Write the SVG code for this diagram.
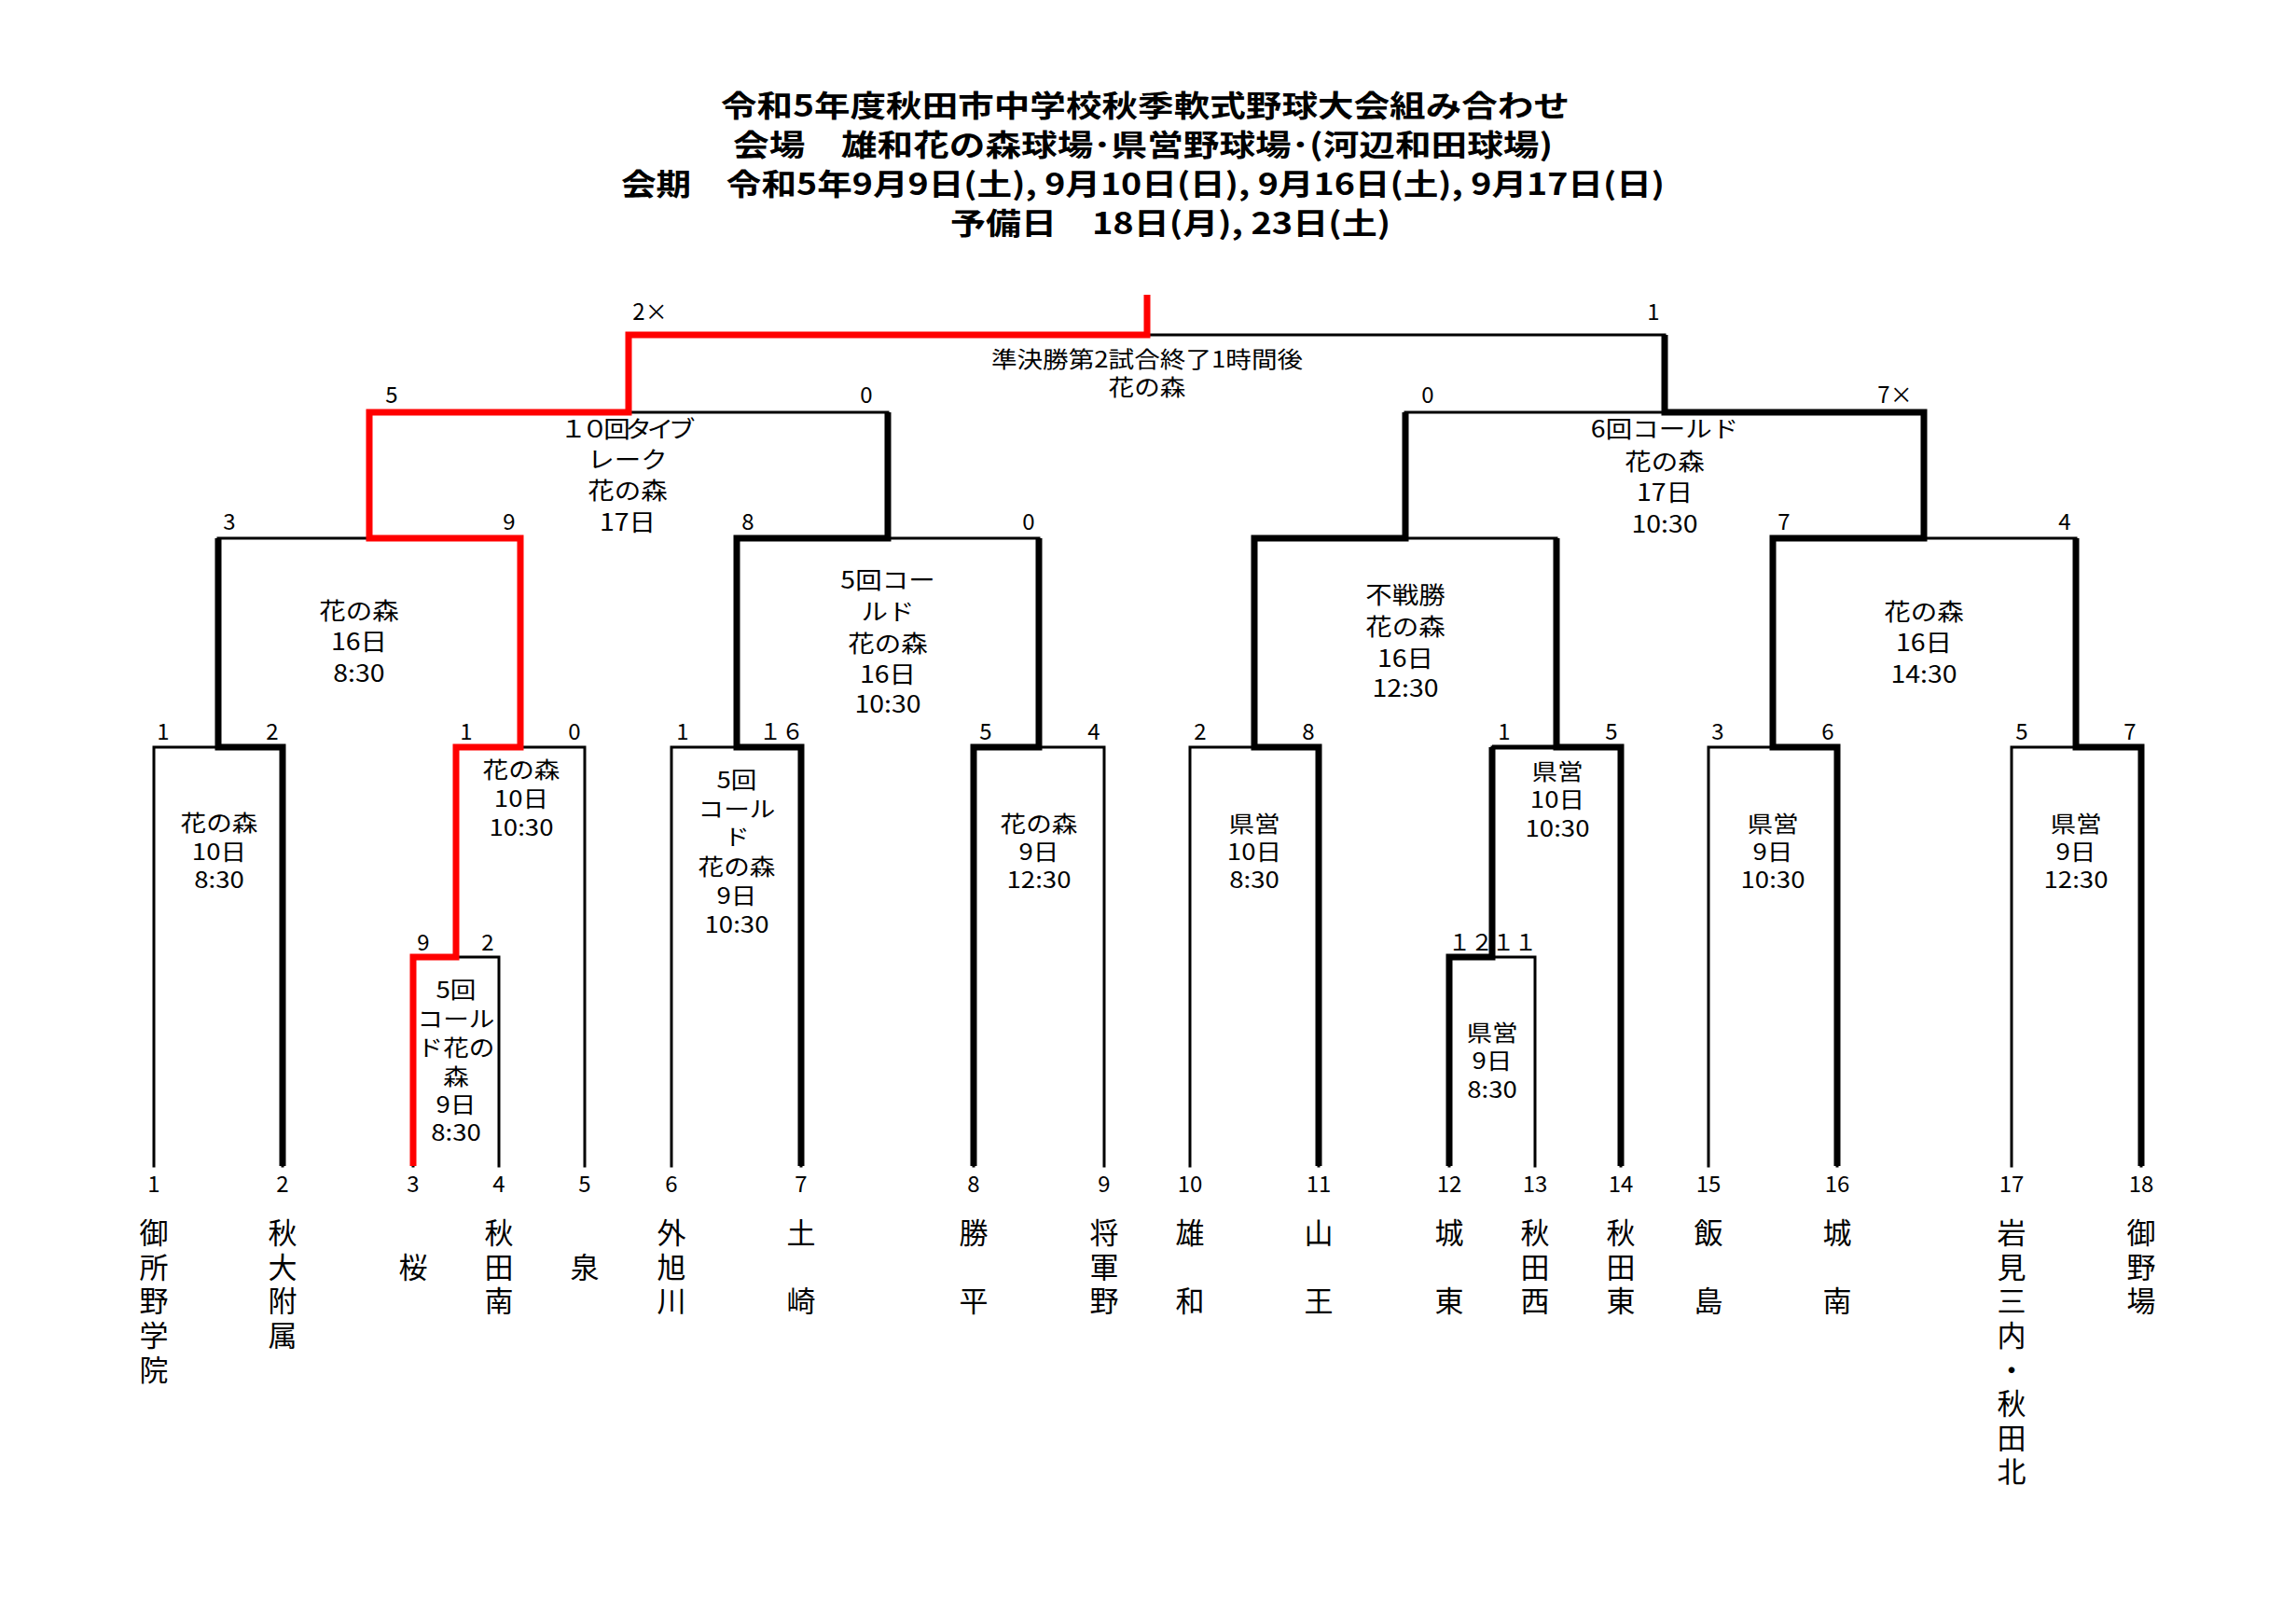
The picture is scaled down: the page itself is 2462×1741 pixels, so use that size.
<svg xmlns="http://www.w3.org/2000/svg" width="2462" height="1741" viewBox="0 0 2462 1741">
<style>
text { font-family: 'Noto Sans CJK JP', 'Noto Sans', sans-serif; fill: #000; }
.title { font-size: 32px; font-weight: 700; }
.lbl { font-size: 24px; text-anchor: middle; }
.lbl2 { font-size: 25px; text-anchor: middle; }
.sc { font-size: 24px; text-anchor: middle; }
.num { font-size: 24px; text-anchor: middle; }
.name { font-size: 31px; writing-mode: vertical-rl; text-anchor: start; letter-spacing: 5.6px; }
.gap { letter-spacing: 42.2px; }
.thin { stroke: #000; stroke-width: 3; fill: none; stroke-linecap: square; }
.thick { stroke: #000; stroke-width: 7; fill: none; stroke-linejoin: miter; }
.med { stroke: #000; stroke-width: 5; fill: none; }
.red { stroke: #ff0000; stroke-width: 7; fill: none; stroke-linejoin: miter; }
</style>
<rect width="2462" height="1741" fill="#fff"/>

<g id="title">
<text class="title" x="773" y="125" textLength="910" lengthAdjust="spacingAndGlyphs">令和5年度秋田市中学校秋季軟式野球大会組み合わせ</text>
<text class="title" x="786" y="167" textLength="879" lengthAdjust="spacingAndGlyphs">会場　雄和花の森球場･県営野球場･(河辺和田球場)</text>
<text class="title" x="666" y="209" textLength="1119" lengthAdjust="spacingAndGlyphs">会期　令和5年9月9日(土), 9月10日(日), 9月16日(土), 9月17日(日)</text>
<text class="title" x="1019" y="251" textLength="472" lengthAdjust="spacingAndGlyphs">予備日　18日(月), 23日(土)</text>
</g>

<g id="connectors">
<path class="thin" d="M165,1250V801 M303,1250V801 M443,1250V1026 M535,1250V1026 M627,1250V801 M720,1250V801 M859,1250V801 M1044,1250V801 M1184,1250V801 M1276,1250V801 M1414,1250V801 M1554,1250V1026 M1646,1250V1026 M1738,1250V801 M1832,1250V801 M1970,1250V801 M2157,1250V801 M2296,1250V801
M443,1026H535 M489,1026V801 M1554,1026H1646 M1600,1026V801
M165,801H303 M489,801H627 M720,801H859 M1044,801H1184 M1276,801H1414 M1600,801H1738 M1832,801H1970 M2157,801H2296
M234,801V577 M558,801V577 M790,801V577 M1114,801V577 M1345,801V577 M1669,801V577 M1901,801V577 M2226,801V577
M234,577H558 M790,577H1114 M1345,577H1669 M1901,577H2226
M396,577V442 M952,577V442 M1507,577V442 M2063,577V442
M396,442H952 M1507,442H2063
M674,442V359 M1785,442V359
M674,359H1785"/>
<polyline class="thick" points="303,1250 303,801 234,801 234,577"/>
<polyline class="thick" points="859,1250 859,801 790,801 790,577 952,577 952,442"/>
<polyline class="thick" points="1044,1250 1044,801 1114,801 1114,577"/>
<polyline class="thick" points="1414,1250 1414,801 1345,801 1345,577 1507,577 1507,442"/>
<polyline class="thick" points="1554,1250 1554,1026 1600,1026 1600,801"/>
<polyline class="med" points="1600,801 1669,801"/>
<polyline class="thick" points="1738,1250 1738,801 1669,801 1669,577"/>
<polyline class="thick" points="1970,1250 1970,801 1901,801 1901,577 2063,577 2063,442 1785,442 1785,359"/>
<polyline class="thick" points="2296,1250 2296,801 2226,801 2226,577"/>
<polyline class="red" points="443,1250 443,1026 489,1026 489,801 558,801 558,577 396,577 396,442 674,442 674,359 1230,359 1230,316"/>
</g>

<g id="final">
<text class="lbl" transform="translate(1230,0) scale(1.15,1) translate(-1230,0)"><tspan x="1230" y="394">準決勝第2試合終了1時間後</tspan><tspan x="1230" y="424">花の森</tspan></text>
<text class="sc" x="697" y="343">2×</text>
<text class="sc" x="1773" y="343">1</text>
</g>

<g id="semi-1">
<text class="lbl2" transform="translate(673,0) scale(1.14,1) translate(-673,0)"><tspan x="673" y="469" textLength="127" lengthAdjust="spacing">１０回タイブ</tspan><tspan x="673" y="502">レーク</tspan><tspan x="673" y="535">花の森</tspan><tspan x="673" y="569">17日</tspan></text>
<text class="sc" x="420" y="432">5</text>
<text class="sc" x="929" y="432">0</text>
</g>

<g id="semi-2">
<text class="lbl2" transform="translate(1785,0) scale(1.14,1) translate(-1785,0)"><tspan x="1785" y="469">6回コールド</tspan><tspan x="1785" y="504">花の森</tspan><tspan x="1785" y="537">17日</tspan><tspan x="1785" y="571">10:30</tspan></text>
<text class="sc" x="1531" y="432">0</text>
<text class="sc" x="2032" y="432">7×</text>
</g>

<g id="qf-1">
<text class="lbl2" transform="translate(385,0) scale(1.14,1) translate(-385,0)"><tspan x="385" y="664">花の森</tspan><tspan x="385" y="697">16日</tspan><tspan x="385" y="731">8:30</tspan></text>
<text class="sc" x="246" y="568">3</text>
<text class="sc" x="546" y="568">9</text>
</g>

<g id="qf-2">
<text class="lbl2" transform="translate(952,0) scale(1.14,1) translate(-952,0)"><tspan x="952" y="631">5回コー</tspan><tspan x="952" y="665">ルド</tspan><tspan x="952" y="699">花の森</tspan><tspan x="952" y="732">16日</tspan><tspan x="952" y="764">10:30</tspan></text>
<text class="sc" x="802" y="568">8</text>
<text class="sc" x="1103" y="568">0</text>
</g>

<g id="qf-3">
<text class="lbl2" transform="translate(1507,0) scale(1.14,1) translate(-1507,0)"><tspan x="1507" y="647">不戦勝</tspan><tspan x="1507" y="681">花の森</tspan><tspan x="1507" y="715">16日</tspan><tspan x="1507" y="747">12:30</tspan></text>
</g>

<g id="qf-4">
<text class="lbl2" transform="translate(2063,0) scale(1.14,1) translate(-2063,0)"><tspan x="2063" y="665">花の森</tspan><tspan x="2063" y="698">16日</tspan><tspan x="2063" y="732">14:30</tspan></text>
<text class="sc" x="1913" y="568">7</text>
<text class="sc" x="2214" y="568">4</text>
</g>

<g id="r2-a">
<text class="lbl" transform="translate(235,0) scale(1.15,1) translate(-235,0)"><tspan x="235" y="891">花の森</tspan><tspan x="235" y="922">10日</tspan><tspan x="235" y="952">8:30</tspan></text>
<text class="sc" x="175" y="793">1</text>
<text class="sc" x="292" y="793">2</text>
</g>

<g id="r2-b">
<text class="lbl" transform="translate(559,0) scale(1.15,1) translate(-559,0)"><tspan x="559" y="834">花の森</tspan><tspan x="559" y="865">10日</tspan><tspan x="559" y="896">10:30</tspan></text>
<text class="sc" x="500" y="793">1</text>
<text class="sc" x="616" y="793">0</text>
</g>

<g id="r2-c">
<text class="lbl" transform="translate(790,0) scale(1.15,1) translate(-790,0)"><tspan x="790" y="845">5回</tspan><tspan x="790" y="876">コール</tspan><tspan x="790" y="906">ド</tspan><tspan x="790" y="938">花の森</tspan><tspan x="790" y="969">9日</tspan><tspan x="790" y="1000">10:30</tspan></text>
<text class="sc" x="732" y="793">1</text>
<text class="sc" x="838" y="793">１６</text>
</g>

<g id="r2-d">
<text class="lbl" transform="translate(1114,0) scale(1.15,1) translate(-1114,0)"><tspan x="1114" y="892">花の森</tspan><tspan x="1114" y="922">9日</tspan><tspan x="1114" y="952">12:30</tspan></text>
<text class="sc" x="1057" y="793">5</text>
<text class="sc" x="1173" y="793">4</text>
</g>

<g id="r2-e">
<text class="lbl" transform="translate(1345,0) scale(1.15,1) translate(-1345,0)"><tspan x="1345" y="892">県営</tspan><tspan x="1345" y="922">10日</tspan><tspan x="1345" y="952">8:30</tspan></text>
<text class="sc" x="1287" y="793">2</text>
<text class="sc" x="1403" y="793">8</text>
</g>

<g id="r2-f">
<text class="lbl" transform="translate(1670,0) scale(1.15,1) translate(-1670,0)"><tspan x="1670" y="836">県営</tspan><tspan x="1670" y="866">10日</tspan><tspan x="1670" y="897">10:30</tspan></text>
<text class="sc" x="1613" y="793">1</text>
<text class="sc" x="1728" y="793">5</text>
</g>

<g id="r2-g">
<text class="lbl" transform="translate(1901,0) scale(1.15,1) translate(-1901,0)"><tspan x="1901" y="892">県営</tspan><tspan x="1901" y="922">9日</tspan><tspan x="1901" y="952">10:30</tspan></text>
<text class="sc" x="1842" y="793">3</text>
<text class="sc" x="1960" y="793">6</text>
</g>

<g id="r2-h">
<text class="lbl" transform="translate(2226,0) scale(1.15,1) translate(-2226,0)"><tspan x="2226" y="892">県営</tspan><tspan x="2226" y="922">9日</tspan><tspan x="2226" y="952">12:30</tspan></text>
<text class="sc" x="2168" y="793">5</text>
<text class="sc" x="2284" y="793">7</text>
</g>

<g id="r1-a">
<text class="lbl" transform="translate(489,0) scale(1.15,1) translate(-489,0)"><tspan x="489" y="1070">5回</tspan><tspan x="489" y="1101">コール</tspan><tspan x="489" y="1132">ド花の</tspan><tspan x="489" y="1163">森</tspan><tspan x="489" y="1193">9日</tspan><tspan x="489" y="1223">8:30</tspan></text>
<text class="sc" x="454" y="1019">9</text>
<text class="sc" x="523" y="1019">2</text>
</g>

<g id="r1-b">
<text class="lbl" transform="translate(1600,0) scale(1.15,1) translate(-1600,0)"><tspan x="1600" y="1116">県営</tspan><tspan x="1600" y="1146">9日</tspan><tspan x="1600" y="1177">8:30</tspan></text>
<text class="sc" x="1577" y="1019">１２</text>
<text class="sc" x="1624" y="1019">１１</text>
</g>

<g id="team-1"><text class="num" x="165" y="1278">1</text><text class="name" x="165" y="1306">御所野学院</text></g>
<g id="team-2"><text class="num" x="303" y="1278">2</text><text class="name" x="303" y="1306">秋大附属</text></g>
<g id="team-3"><text class="num" x="443" y="1278">3</text><text class="name" x="443" y="1343">桜</text></g>
<g id="team-4"><text class="num" x="535" y="1278">4</text><text class="name" x="535" y="1306">秋田南</text></g>
<g id="team-5"><text class="num" x="627" y="1278">5</text><text class="name" x="627" y="1343">泉</text></g>
<g id="team-6"><text class="num" x="720" y="1278">6</text><text class="name" x="720" y="1306">外旭川</text></g>
<g id="team-7"><text class="num" x="859" y="1278">7</text><text class="name gap" x="859" y="1306">土崎</text></g>
<g id="team-8"><text class="num" x="1044" y="1278">8</text><text class="name gap" x="1044" y="1306">勝平</text></g>
<g id="team-9"><text class="num" x="1184" y="1278">9</text><text class="name" x="1184" y="1306">将軍野</text></g>
<g id="team-10"><text class="num" x="1276" y="1278">10</text><text class="name gap" x="1276" y="1306">雄和</text></g>
<g id="team-11"><text class="num" x="1414" y="1278">11</text><text class="name gap" x="1414" y="1306">山王</text></g>
<g id="team-12"><text class="num" x="1554" y="1278">12</text><text class="name gap" x="1554" y="1306">城東</text></g>
<g id="team-13"><text class="num" x="1646" y="1278">13</text><text class="name" x="1646" y="1306">秋田西</text></g>
<g id="team-14"><text class="num" x="1738" y="1278">14</text><text class="name" x="1738" y="1306">秋田東</text></g>
<g id="team-15"><text class="num" x="1832" y="1278">15</text><text class="name gap" x="1832" y="1306">飯島</text></g>
<g id="team-16"><text class="num" x="1970" y="1278">16</text><text class="name gap" x="1970" y="1306">城南</text></g>
<g id="team-17"><text class="num" x="2157" y="1278">17</text><text class="name" x="2157" y="1306">岩見三内・秋田北</text></g>
<g id="team-18"><text class="num" x="2296" y="1278">18</text><text class="name" x="2296" y="1306">御野場</text></g>
</svg>
